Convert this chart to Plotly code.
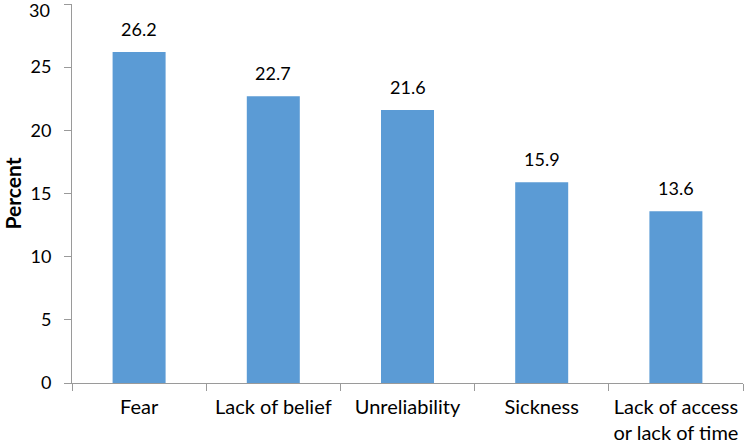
import plotly.graph_objects as go

categories = ["Fear", "Lack of belief", "Unreliability", "Sickness", "Lack of access<br>or lack of time"]
values = [26.2, 22.7, 21.6, 15.9, 13.6]
y_ticks = [0, 5, 10, 15, 20, 25, 30]

FONT = "Lato, 'Open Sans', sans-serif"
AX = "#9a9a9a"

fig = go.Figure()
fig.add_trace(go.Bar(
    x=categories, y=values,
    marker=dict(color="#5B9BD5", line=dict(width=0)),
    width=0.395,
    showlegend=False,
    cliponaxis=False,
))
for c, v in zip(categories, values):
    fig.add_annotation(x=c, y=v, text=f"{v:.1f}", showarrow=False,
                       yanchor="bottom", yshift=10,
                       font=dict(family=FONT, size=18, color="#000"))

# top tick label is nudged down so it stays inside the page (as in the reference)
tick_text = [str(t) for t in y_ticks[:-1]] + [""]
fig.add_annotation(xref="paper", yref="y", x=0, y=y_ticks[-1], text=str(y_ticks[-1]),
                   showarrow=False, xanchor="right", yanchor="middle",
                   xshift=-20, yshift=-6,
                   font=dict(family=FONT, size=18, color="#000"))

fig.update_layout(
    width=744, height=446,
    margin=dict(l=72, r=1, t=4, b=63),
    paper_bgcolor="white", plot_bgcolor="white",
    font=dict(family=FONT, size=19, color="#000"),
    xaxis=dict(
        showline=True, linecolor=AX, linewidth=1,
        ticks="outside", tickson="boundaries", ticklen=7, tickcolor=AX,
        showgrid=False, tickfont=dict(size=20), automargin=False,
        ticklabelstandoff=6,
    ),
    yaxis=dict(
        range=[0, 30], tickvals=y_ticks, ticktext=tick_text,
        showline=True, linecolor=AX, linewidth=1,
        ticks="outside", ticklen=7, tickcolor=AX,
        showgrid=False, zeroline=False, tickfont=dict(size=18), automargin=False,
        ticklabelstandoff=9, ticklabeloverflow="allow",
        title=dict(text="<b>Percent</b>", font=dict(size=21), standoff=10),
    ),
)
fig.write_html("out.html", config={"displayModeBar": False},
               post_script="document.body.style.margin='0';")
